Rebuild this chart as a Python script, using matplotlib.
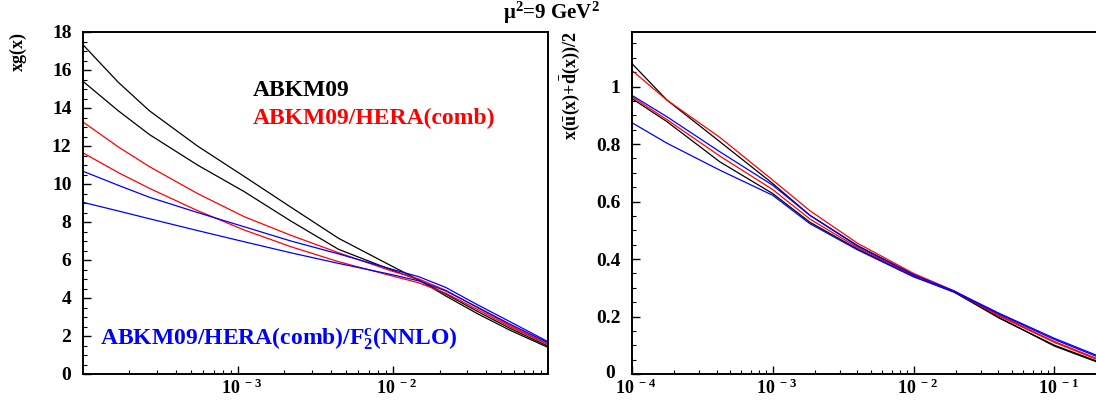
import matplotlib
matplotlib.use("Agg")
import matplotlib.pyplot as plt
import matplotlib.transforms as mtransforms
from matplotlib.ticker import FixedLocator, LogLocator, MultipleLocator, NullFormatter, FixedFormatter

plt.rcParams['font.family'] = ['Liberation Serif', 'DejaVu Serif']
plt.rcParams['font.weight'] = 'bold'
plt.rcParams['mathtext.fontset'] = 'custom'
plt.rcParams['mathtext.rm'] = 'Liberation Serif:bold'
plt.rcParams['mathtext.bf'] = 'Liberation Serif:bold'
plt.rcParams['mathtext.it'] = 'Liberation Serif:bold'

# gluon, xg(x) at mu^2 = 9 GeV^2 (upper / lower edge of each band)
x_g = [1e-4, 1.7e-4, 2.7e-4, 5.5e-4, 1.1e-3, 2.2e-3, 4.47e-3, 1e-2, 1.47e-2,
       2.2e-2, 3.5e-2, 5.7e-2, 1e-1]
g_abkm_hi = [17.35, 15.35, 13.85, 12.0, 10.4, 8.78, 7.14, 5.65, 4.95, 4.1, 3.18, 2.3, 1.40]
g_abkm_lo = [15.42, 13.85, 12.6, 11.0, 9.6, 8.05, 6.56, 5.45, 4.95, 4.2, 3.3, 2.4, 1.47]
g_hera_hi = [13.28, 11.95, 10.91, 9.5, 8.28, 7.3, 6.38, 5.4, 5.0, 4.4, 3.5, 2.55, 1.58]
g_hera_lo = [11.65, 10.6, 9.77, 8.6, 7.58, 6.7, 5.91, 5.15, 4.8, 4.25, 3.4, 2.48, 1.55]
g_f2c_hi = [10.68, 9.93, 9.30, 8.5, 7.75, 7.0, 6.32, 5.5, 5.12, 4.55, 3.65, 2.75, 1.70]
g_f2c_lo = [9.04, 8.58, 8.17, 7.55, 6.96, 6.38, 5.82, 5.22, 4.9, 4.37, 3.52, 2.62, 1.65]

# sea, x(ubar+dbar)/2
x_s = [1e-4, 1.78e-4, 4.23e-4, 1e-3, 1.84e-3, 4.0e-3, 1e-2, 1.95e-2, 4.1e-2, 1e-1, 0.197]
s_abkm_hi = [1.081, 0.953, 0.808, 0.663, 0.552, 0.447, 0.346, 0.287, 0.195, 0.097, 0.043]
s_abkm_lo = [0.959, 0.878, 0.738, 0.628, 0.528, 0.435, 0.340, 0.284, 0.193, 0.100, 0.046]
s_hera_hi = [1.057, 0.953, 0.823, 0.675, 0.568, 0.455, 0.350, 0.289, 0.203, 0.113, 0.055]
s_hera_lo = [0.965, 0.885, 0.758, 0.642, 0.539, 0.440, 0.343, 0.286, 0.200, 0.110, 0.052]
s_f2c_hi = [0.970, 0.895, 0.773, 0.657, 0.552, 0.445, 0.345, 0.288, 0.210, 0.124, 0.066]
s_f2c_lo = [0.875, 0.803, 0.709, 0.622, 0.523, 0.432, 0.338, 0.285, 0.207, 0.120, 0.062]

W, H = 1096, 403
fig = plt.figure(figsize=(W / 100, H / 100), dpi=100)
ax1 = fig.add_axes([82.6 / W, 29 / H, (548 - 82.6) / W, 342 / H])
ax2 = fig.add_axes([631.7 / W, 29 / H, 1 - 631.7 / W, 342 / H])

lw = 0.9
for ys, c in [(g_abkm_hi, 'black'), (g_abkm_lo, 'black'), (g_hera_hi, 'red'),
              (g_hera_lo, 'red'), (g_f2c_hi, 'blue'), (g_f2c_lo, 'blue')]:
    ax1.plot(x_g, ys, color=c, lw=lw)
for ys, c in [(s_abkm_hi, 'black'), (s_abkm_lo, 'black'), (s_hera_hi, 'red'),
              (s_hera_lo, 'red'), (s_f2c_hi, 'blue'), (s_f2c_lo, 'blue')]:
    ax2.plot(x_s, ys, color=c, lw=lw)


def dec(e):
    return r'$\mathbf{10}^{\mathbf{\ %d}}$' % e


for ax in (ax1, ax2):
    ax.set_xscale('log')
    for s in ax.spines.values():
        s.set_linewidth(1.4)
    ax.tick_params(which='both', direction='in', top=False, right=False)
    ax.tick_params(which='major', length=5.5, width=1.0)
    ax.tick_params(which='minor', length=3, width=0.8)
    ax.tick_params(axis='y', pad=8, labelsize=14)
    ax.tick_params(axis='x', pad=3, labelsize=13)
    ax.xaxis.set_minor_locator(LogLocator(base=10, subs=range(2, 10), numticks=20))
    ax.xaxis.set_minor_formatter(NullFormatter())

ax1.set_xlim(1e-4, 1e-1)
ax1.set_ylim(0, 18)
ax1.xaxis.set_major_locator(FixedLocator([1e-3, 1e-2]))
ax1.xaxis.set_major_formatter(FixedFormatter([dec(-3), dec(-2)]))
ax1.yaxis.set_major_locator(MultipleLocator(2))
ax1.yaxis.set_minor_locator(MultipleLocator(0.5))

ax2.set_xlim(1e-4, 0.197)
ax2.set_ylim(0, 1.19)
ax2.xaxis.set_major_locator(FixedLocator([1e-4, 1e-3, 1e-2, 1e-1]))
ax2.xaxis.set_major_formatter(FixedFormatter([dec(-4), dec(-3), dec(-2), dec(-1)]))
ax2.yaxis.set_major_locator(FixedLocator([0, 0.2, 0.4, 0.6, 0.8, 1.0]))
ax2.yaxis.set_major_formatter(FixedFormatter(['0', '0.2', '0.4', '0.6', '0.8', '1']))
ax2.yaxis.set_minor_locator(MultipleLocator(0.05))
ax2.spines['right'].set_visible(False)

# ROOT-like label nudges: decade labels sit a bit right of the tick,
# and the "0" of the right panel is pushed left/up out of the way of 10^-4
shift_x = mtransforms.ScaledTranslation(4 / 100, 0, fig.dpi_scale_trans)
for ax in (ax1, ax2):
    for t in ax.xaxis.get_major_ticks():
        t.label1.set_transform(t.label1.get_transform() + shift_x)
zero = ax2.yaxis.get_major_ticks()[0].label1
zero.set_transform(zero.get_transform() +
                   mtransforms.ScaledTranslation(-6 / 100, 3 / 100, fig.dpi_scale_trans))

ax1.text(-0.139, 1.0, 'xg(x)', rotation=90, ha='center', va='top',
         transform=ax1.transAxes, fontsize=13, fontweight='bold')
ax2.text(-0.133, 1.0, r'$\mathbf{x(\bar{u}(x){+}\bar{d}(x))/2}$', rotation=90,
         ha='center', va='top', transform=ax2.transAxes, fontsize=13)

fig.text(551 / W, 1 - 13 / H, r'$\mathbf{\mu^{2}}$=9 GeV$^{\mathbf{2}}$',
         ha='center', va='center', fontsize=15, fontweight='bold')

ax1.text((253 - 82.6) / 465.4, (374 - 96) / 342, 'ABKM09', color='black',
         transform=ax1.transAxes, fontsize=17, fontweight='bold', va='baseline')
ax1.text((253 - 82.6) / 465.4, (374 - 124) / 342, 'ABKM09/HERA(comb)', color='red',
         transform=ax1.transAxes, fontsize=17, fontweight='bold', va='baseline')
ax1.text((100 - 82.6) / 465.4, (374 - 344) / 342,
         r'ABKM09/HERA(comb)/F$_{\mathbf{2}}^{\mathbf{c}}$(NNLO)', color='blue',
         transform=ax1.transAxes, fontsize=17, fontweight='bold', va='baseline')

fig.savefig('out.png', dpi=100)
